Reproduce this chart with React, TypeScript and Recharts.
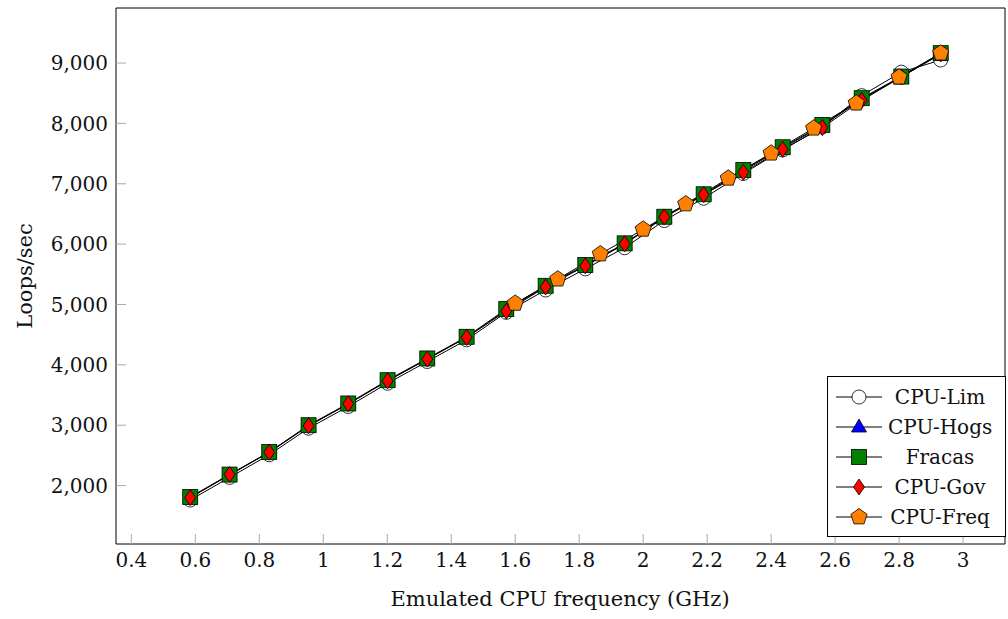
import { Label, Line, LineChart, XAxis, YAxis } from "recharts";

// shared emulated frequency steps (GHz)
const steps = [
  0.584, 0.707, 0.831, 0.954, 1.078, 1.201, 1.325, 1.448, 1.572, 1.695, 1.819, 1.942, 2.066,
  2.189, 2.313, 2.436, 2.56, 2.683, 2.807, 2.93,
];

const cpuLim = [
  1760, 2135, 2510, 2950, 3310, 3695, 4055, 4415, 4870, 5240, 5590, 5940, 6390, 6760, 7170,
  7560, 7940, 8460, 8850, 9050,
];
const cpuHogs = [
  1800, 2175, 2550, 2990, 3350, 3735, 4095, 4455, 4910, 5295, 5640, 6000, 6440, 6815, 7215,
  7590, 7960, 8400, 8770, 9150,
];
const fracas = [
  1811, 2182, 2557, 3000, 3360, 3746, 4106, 4465, 4924, 5310, 5653, 6013, 6454, 6826, 7229,
  7605, 7975, 8418, 8776, 9164,
];
const cpuGov = [
  1800, 2185, 2550, 2990, 3355, 3735, 4095, 4455, 4890, 5290, 5640, 6005, 6450, 6820, 7190,
  7570, 7930, 8380, 8770, 9150,
];

// cpufreq only has the real P-states
const freqSteps = [1.6, 1.733, 1.866, 2.0, 2.133, 2.266, 2.4, 2.533, 2.666, 2.8, 2.93];
const cpuFreq = [5018, 5420, 5836, 6245, 6665, 7091, 7506, 7920, 8335, 8766, 9164];

const xTicks = [0.4, 0.6, 0.8, 1, 1.2, 1.4, 1.6, 1.8, 2, 2.2, 2.4, 2.6, 2.8, 3];
const yTicks = [2000, 3000, 4000, 5000, 6000, 7000, 8000, 9000];

const FONT = "'DejaVu Serif', serif";
const TEXT = "#111";
const TICK_GRAY = "#aaaaaa";

const toPoints = (xs: number[], ys: number[]) => xs.map((x, i) => ({ x, y: ys[i] }));

type Shape = "circle" | "triangle" | "square" | "diamond" | "pentagon";

function Marker({ shape, cx, cy }: { shape: Shape; cx: number; cy: number }) {
  const common = { stroke: "#000", strokeWidth: 0.8 };
  if (shape === "circle") return <circle cx={cx} cy={cy} r={7} fill="#fff" {...common} />;
  if (shape === "square")
    return <rect x={cx - 7.5} y={cy - 7.5} width={15} height={15} fill="#008000" {...common} />;
  if (shape === "triangle")
    return (
      <polygon
        points={`${cx},${cy - 8} ${cx + 7.5},${cy + 5} ${cx - 7.5},${cy + 5}`}
        fill="#0000ff"
        {...common}
      />
    );
  if (shape === "diamond")
    return (
      <polygon
        points={`${cx},${cy - 8} ${cx + 5.5},${cy} ${cx},${cy + 8} ${cx - 5.5},${cy}`}
        fill="#ff0000"
        {...common}
      />
    );
  const r = 8.5;
  const pts = [0, 1, 2, 3, 4]
    .map((k) => {
      const a = -Math.PI / 2 + (k * 2 * Math.PI) / 5;
      return `${cx + r * Math.cos(a)},${cy + r * Math.sin(a)}`;
    })
    .join(" ");
  return <polygon points={pts} fill="#ff8000" {...common} />;
}

const dotFor = (shape: Shape) => (props: any) => (
  <Marker key={`${shape}-${props.index}`} shape={shape} cx={props.cx} cy={props.cy} />
);

const series: { name: string; shape: Shape; data: { x: number; y: number }[] }[] = [
  { name: "CPU-Lim", shape: "circle", data: toPoints(steps, cpuLim) },
  { name: "CPU-Hogs", shape: "triangle", data: toPoints(steps, cpuHogs) },
  { name: "Fracas", shape: "square", data: toPoints(steps, fracas) },
  { name: "CPU-Gov", shape: "diamond", data: toPoints(steps, cpuGov) },
  { name: "CPU-Freq", shape: "pentagon", data: toPoints(freqSteps, cpuFreq) },
];

function LegendBox() {
  return (
    <div
      style={{
        position: "absolute",
        left: 827,
        top: 376,
        width: 177,
        height: 159,
        border: "1px solid #000",
        background: "#fff",
        fontFamily: FONT,
        fontSize: 20,
        color: TEXT,
      }}
    >
      {series.map((s, i) => (
        <div
          key={s.name}
          style={{ position: "absolute", left: 0, top: 5 + i * 30, height: 30, width: 177 }}
        >
          <svg width={60} height={30} style={{ position: "absolute", left: 0, top: 0 }}>
            <line x1={8} x2={54} y1={15} y2={15} stroke="#000" strokeWidth={1} />
            <Marker shape={s.shape} cx={31} cy={15} />
          </svg>
          <div
            style={{
              position: "absolute",
              left: 60,
              width: 104,
              top: 0,
              lineHeight: "30px",
              textAlign: "center",
              whiteSpace: "nowrap",
            }}
          >
            {s.name}
          </div>
        </div>
      ))}
    </div>
  );
}

export default function App() {
  const tickStyle = { fontSize: 20, fill: TEXT, fontFamily: FONT };
  return (
    <div style={{ position: "absolute", left: 0, top: 0, width: 1008, height: 619 }}>
      <LineChart width={1008} height={619} margin={{ top: 7, right: 2, bottom: 0, left: 0 }}>
        <XAxis
          dataKey="x"
          type="number"
          domain={[0.352, 3.131]}
          allowDataOverflow
          ticks={xTicks}
          tickFormatter={(v) => String(v)}
          tick={tickStyle}
          tickSize={-10}
          tickMargin={19}
          tickLine={{ stroke: TICK_GRAY }}
          axisLine={{ stroke: "#000" }}
          height={75}
        >
          <Label
            content={() => (
              <text x={560} y={606} textAnchor="middle" fontSize={21} fontFamily={FONT} fill={TEXT}>
                Emulated CPU frequency (GHz)
              </text>
            )}
          />
        </XAxis>
        <XAxis
          xAxisId="top"
          orientation="top"
          type="number"
          domain={[0.352, 3.131]}
          allowDataOverflow
          ticks={xTicks}
          tick={false}
          tickSize={-10}
          tickLine={{ stroke: TICK_GRAY }}
          axisLine={{ stroke: "#000" }}
          height={1}
        />
        <YAxis
          type="number"
          domain={[1032, 9912]}
          allowDataOverflow
          ticks={yTicks}
          tickFormatter={(v) => Number(v).toLocaleString("en-US")}
          tick={tickStyle}
          tickSize={-10}
          tickMargin={18}
          tickLine={{ stroke: TICK_GRAY }}
          axisLine={{ stroke: "#000" }}
          width={116}
        >
          <Label
            content={() => (
              <text
                x={32}
                y={276}
                transform="rotate(-90 32 276)"
                textAnchor="middle"
                fontSize={21}
                fontFamily={FONT}
                fill={TEXT}
              >
                Loops/sec
              </text>
            )}
          />
        </YAxis>
        <YAxis
          yAxisId="right"
          orientation="right"
          type="number"
          domain={[1032, 9912]}
          allowDataOverflow
          ticks={yTicks}
          tick={false}
          tickSize={-10}
          tickLine={{ stroke: TICK_GRAY }}
          axisLine={{ stroke: "#000" }}
          width={1}
        />
        {series.map((s) => (
          <Line
            key={s.name}
            data={s.data}
            dataKey="y"
            name={s.name}
            type="linear"
            stroke="#000"
            strokeWidth={1}
            dot={dotFor(s.shape)}
            activeDot={false}
            isAnimationActive={false}
          />
        ))}
      </LineChart>
      <LegendBox />
    </div>
  );
}
